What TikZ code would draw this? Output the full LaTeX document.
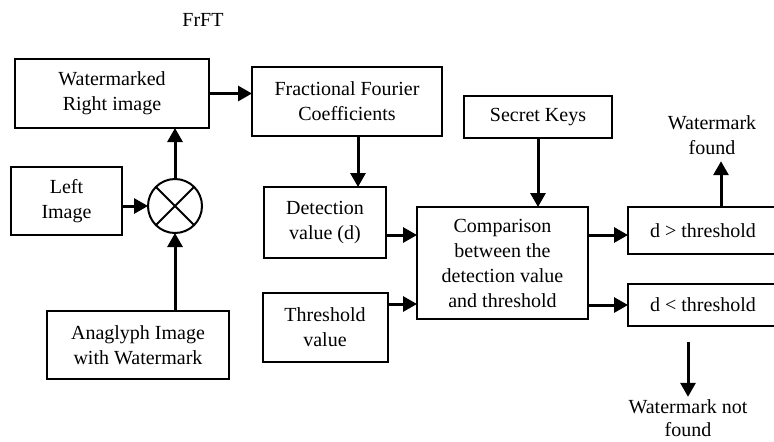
\documentclass[tikz,border=0pt]{standalone}
\usepackage{fontspec}
\setmainfont{Liberation Serif}
\usetikzlibrary{positioning}
\usetikzlibrary{arrows.meta}

\begin{document}
\begin{tikzpicture}[x=0.5pt, y=-0.5pt, thick, outer sep=0, font=\fontsize{10}{12.5}\selectfont,
        box/.style={draw, rectangle, line width=1pt, align=center},
        arr/.style={-{Triangle[length=7pt, width=7.5pt]}, line width=1.5pt}]
        \useasboundingbox (0,0) rectangle (774,441);
        \clip (0,0) rectangle (774,441);
        % embedding side
        \node (14) at (203,20) {FrFT};
        \node [box, minimum height=34.5pt, minimum width=97pt] (1) at (112,93.5) {Watermarked\\Right image};
        \node [box, minimum height=34pt, minimum width=55.5pt] (3) at (66.5,201) {Left\\Image};
        \node [draw, circle, line width=1pt, minimum size=27pt, inner sep=0,
            path picture={\draw[line width=1pt] (path picture bounding box.north west) -- (path picture bounding box.south east)
                (path picture bounding box.north east) -- (path picture bounding box.south west);}] (4) at (175,206) {};
        \node [box, minimum height=34pt, minimum width=91pt] (5) at (138,345) {Anaglyph Image\\with Watermark};
        \draw[arr] (4.west -| 3.east) -- (4.west);
        \draw[arr] (4.north) -- (4.north |- 1.south);
        \draw[arr] (4.south |- 5.north) -- (4.south);
        % detection side
        \node [box, minimum height=34.5pt, minimum width=95pt] (2) at (347,101.5) {Fractional Fourier\\Coefficients};
        \node [box, minimum height=35.5pt, minimum width=61pt] (6) at (325,222.5) {Detection\\value (d)};
        \node [box, minimum height=34.5pt, minimum width=62.5pt, below = 17.5pt of 6] (7) {Threshold\\value};
        \node [box, minimum height=21pt, minimum width=74pt] (9) at (538,117) {Secret Keys};
        \node [box, minimum height=56pt, minimum width=85.5pt] (8) at (502.5,263) {Comparison\\between the\\detection value\\and threshold};
        \draw[arr] (1.east) -- (1.east -| 2.west);
        \coordinate (15) at ([xshift=5.5pt]2.south);
        \draw[arr] (15) -- (15 |- 6.north);
        \draw[arr] (9.south) -- (9.south |- 8.north);
        \coordinate (16) at ([yshift=-6.25pt]6.east);
        \draw[arr] (16) -- (16 -| 8.west);
        \coordinate (17) at ([yshift=11.75pt]7.east);
        \draw[arr] (17) -- (17 -| 8.west);
        % decision
        \node [box, minimum height=23.5pt, minimum width=75pt] (10) at (703,230.5) {d > threshold};
        \node [box, minimum height=21pt, minimum width=75pt, below = 15pt of 10] (11) {d < threshold};
        \node [align=center] (12) at (712,135) {Watermark\\found};
        \node [align=center, font=\fontsize{10}{11.5}\selectfont] (13) at (688,418) {Watermark not\\found};
        \coordinate (18) at ([yshift=-2.25pt]10.west);
        \draw[arr] (18 -| 8.east) -- (18);
        \draw[arr] (11.west -| 8.east) -- (11.west);
        \coordinate (19) at ([xshift=4.5pt]12.south);
        \draw[arr] (19 |- 10.north) -- (19);
        \coordinate (20) at ([yshift=-8pt]11.south);
        \draw[arr] (13.north |- 20) -- ([yshift=-2pt]13.north);
    \end{tikzpicture}
\end{document}
